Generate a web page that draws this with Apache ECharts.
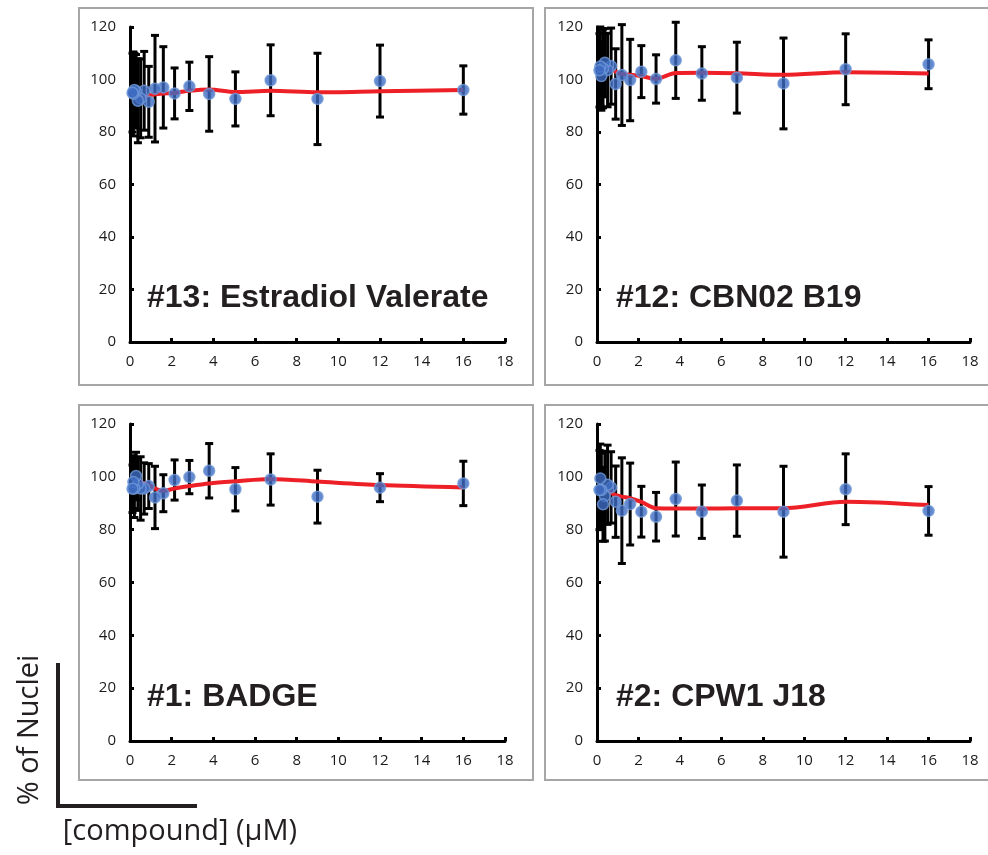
<!DOCTYPE html>
<html>
<head>
<meta charset="utf-8">
<script src="https://cdn.jsdelivr.net/npm/echarts@6/dist/echarts.min.js"></script>
<style>
  html, body { margin: 0; padding: 0; background: #fff; }
  #main { width: 988px; height: 855px; }
</style>
</head>
<body>
<div id="main"></div>
<script>
// concentrations (uM)
var conc = [16, 12, 9, 6.75, 5.06, 3.8, 2.85, 2.14, 1.6, 1.2, 0.9, 0.68, 0.51, 0.38, 0.29, 0.21, 0.16, 0.12];
// concentrations that the red trend line covers
var lineConc = [16, 12, 9, 6.75, 5.06, 3.8, 2.85, 2.14, 1.6, 1.2, 0.9, 0.68, 0.51];

var titles = ['#13: Estradiol Valerate', '#12: CBN02 B19', '#1: BADGE', '#2: CPW1 J18'];

// % of nuclei, mean
var meanEV   = [96, 99.4, 92.6, 99.7, 92.6, 94.5, 97.4, 94.7, 97.0, 96.5, 91.5, 95.7, 92.8, 91.9, 95.5, 96, 94.5, 95];
var meanCBN  = [105.8, 103.9, 98.5, 100.7, 102.3, 107.3, 100.2, 103, 99.8, 101.7, 98.3, 105.1, 103.6, 106.4, 104.2, 101.3, 105, 103.5];
var meanBAD  = [97.5, 95.9, 92.5, 99, 95.3, 102.3, 99.9, 98.8, 93.8, 92.2, 96.5, 95.6, 95.6, 97.3, 100.3, 95.6, 98, 95.5];
var meanCPW  = [87.1, 95.3, 86.8, 91, 86.8, 91.6, 84.9, 86.8, 89.7, 87.2, 90.6, 96, 97, 92.7, 89.6, 95, 99.4, 95];

// error (+/-)
var errEV   = [9.2, 13.7, 17.4, 13.5, 10.3, 14.2, 9.2, 9.7, 15.5, 20.3, 13.5, 15, 15, 16, 14, 14, 16, 15];
var errCBN  = [9.3, 13.5, 17.3, 13.5, 10.2, 14.5, 9.2, 9.9, 15.5, 19.2, 13.4, 14.5, 14, 13, 15, 13, 15, 14];
var errBAD  = [8.4, 5.3, 10, 9.7, 8.2, 10.3, 6.3, 7.6, 7, 11.8, 8.5, 9.7, 12, 10, 9, 11, 10, 9];
var errCPW  = [9.2, 13.4, 17.2, 13.5, 10.1, 14, 9.2, 9.6, 15.5, 20, 13.5, 13.5, 15, 17, 14, 14, 13, 15];

// red trend line values
var lineEV  = [96, 95.5, 95.1, 95.7, 95.2, 96.2, 95.7, 94.9, 94.7, 94.4, 93.8, 93.4, 93.6];
var lineCBN = [102.3, 102.8, 101.8, 102.4, 102.6, 102.5, 100.3, 101.3, 101.8, 102.1, 103, 104, 104.2];
var lineBAD = [96, 96.9, 98.2, 99.2, 98.3, 97.5, 96.5, 95.6, 94.7, 95.6, 96.9, 97.6, 97.8];
var lineCPW = [89.3, 90.6, 88.1, 88.1, 88, 88, 88.1, 90.5, 91.9, 92.5, 93.1, 94, 95];

var yTicks = [0, 20, 40, 60, 80, 100, 120];
var xTicks = [0, 2, 4, 6, 8, 10, 12, 14, 16, 18];

var means = [meanEV, meanCBN, meanBAD, meanCPW];
var errs = [errEV, errCBN, errBAD, errCPW];
var lines = [lineEV, lineCBN, lineBAD, lineCPW];

var grids = [
  { left: 130, top: 27, width: 375, height: 315 },
  { left: 597, top: 27, width: 373, height: 315 },
  { left: 130, top: 424, width: 375, height: 317 },
  { left: 597, top: 424, width: 373, height: 317 }
];

var labelFont = { color: '#1a1a1a', fontSize: 15, fontFamily: 'Open Sans' };

function errorBar(params, api) {
  var x = api.value(0);
  var p1 = api.coord([x, api.value(2)]);
  var p2 = api.coord([x, api.value(1)]);
  var w = 4;
  var st = { stroke: '#000', lineWidth: 3 };
  return {
    type: 'group',
    children: [
      { type: 'line', shape: { x1: p1[0], y1: p1[1], x2: p2[0], y2: p2[1] }, style: st },
      { type: 'line', shape: { x1: p1[0] - w, y1: p1[1], x2: p1[0] + w, y2: p1[1] }, style: st },
      { type: 'line', shape: { x1: p2[0] - w, y1: p2[1], x2: p2[0] + w, y2: p2[1] }, style: st }
    ]
  };
}

var xAxes = [], yAxes = [], series = [];
for (var i = 0; i < 4; i++) {
  xAxes.push({
    gridIndex: i, type: 'value', min: xTicks[0], max: xTicks[xTicks.length - 1], interval: 2,
    axisLine: { onZero: false, lineStyle: { color: '#000', width: 3 } },
    axisTick: { inside: true, length: 4, lineStyle: { color: '#000', width: 3 } },
    axisLabel: Object.assign({ margin: 12 }, labelFont),
    splitLine: { show: false }
  });
  yAxes.push({
    gridIndex: i, type: 'value', min: yTicks[0], max: yTicks[yTicks.length - 1], interval: 20,
    axisLine: { show: true, lineStyle: { color: '#000', width: 3 } },
    axisTick: { show: true, inside: true, length: 4, lineStyle: { color: '#000', width: 3 } },
    axisLabel: Object.assign({ margin: 14 }, labelFont),
    splitLine: { show: false }
  });
  var errData = [], ptData = [], lnData = [];
  for (var k = 0; k < conc.length; k++) {
    errData.push([conc[k], means[i][k] - errs[i][k], means[i][k] + errs[i][k]]);
    ptData.push([conc[k], means[i][k]]);
  }
  for (var m = 0; m < lineConc.length; m++) {
    lnData.push([lineConc[m], lines[i][m]]);
  }
  series.push({
    type: 'custom', xAxisIndex: i, yAxisIndex: i, renderItem: errorBar,
    encode: { x: 0, y: [1, 2] }, data: errData, z: 2, silent: true
  });
  series.push({
    type: 'line', xAxisIndex: i, yAxisIndex: i, data: lnData, smooth: 0.3,
    showSymbol: false, lineStyle: { color: '#ee2027', width: 4 }, z: 3, silent: true
  });
  series.push({
    type: 'scatter', xAxisIndex: i, yAxisIndex: i, data: ptData, symbolSize: 11,
    itemStyle: { color: '#3e6cc2', borderColor: '#6f98d8', borderWidth: 1.5 }, z: 4, silent: true
  });
}

var boxStyle = { fill: 'none', stroke: '#a6a6a6', lineWidth: 2 };
var titleFont = 'bold 32px "Liberation Sans"';
var graphic = [
  { type: 'rect', shape: { x: 79, y: 8, width: 454, height: 377 }, style: boxStyle, z: -1 },
  { type: 'rect', shape: { x: 545, y: 8, width: 460, height: 377 }, style: boxStyle, z: -1 },
  { type: 'rect', shape: { x: 79, y: 405, width: 454, height: 375 }, style: boxStyle, z: -1 },
  { type: 'rect', shape: { x: 545, y: 405, width: 460, height: 375 }, style: boxStyle, z: -1 },
  { type: 'text', x: 147, y: 298, style: { text: titles[0], font: titleFont, fill: '#231f20', textVerticalAlign: 'middle' } },
  { type: 'text', x: 616, y: 298, style: { text: titles[1], font: titleFont, fill: '#231f20', textVerticalAlign: 'middle' } },
  { type: 'text', x: 147, y: 697, style: { text: titles[2], font: titleFont, fill: '#231f20', textVerticalAlign: 'middle' } },
  { type: 'text', x: 616, y: 697, style: { text: titles[3], font: titleFont, fill: '#231f20', textVerticalAlign: 'middle' } },
  // axis-key "L"
  { type: 'polyline', shape: { points: [[58, 663], [58, 806], [197, 806]] }, style: { stroke: '#231f20', lineWidth: 4, fill: 'none' } },
  { type: 'text', x: 30, y: 730, rotation: Math.PI / 2,
    style: { text: '% of Nuclei', font: '29px "Open Sans"', fill: '#231f20', textAlign: 'center', textVerticalAlign: 'middle' } },
  { type: 'text', x: 180, y: 832,
    style: { text: '[compound] (\u03bcM)', font: '29px "Open Sans"', fill: '#231f20', textAlign: 'center', textVerticalAlign: 'middle' } }
];

var chart = echarts.init(document.getElementById('main'), null, { renderer: 'canvas' });
chart.setOption({
  backgroundColor: '#fff',
  animation: false,
  grid: grids,
  xAxis: xAxes,
  yAxis: yAxes,
  series: series,
  graphic: graphic
});
</script>
</body>
</html>
